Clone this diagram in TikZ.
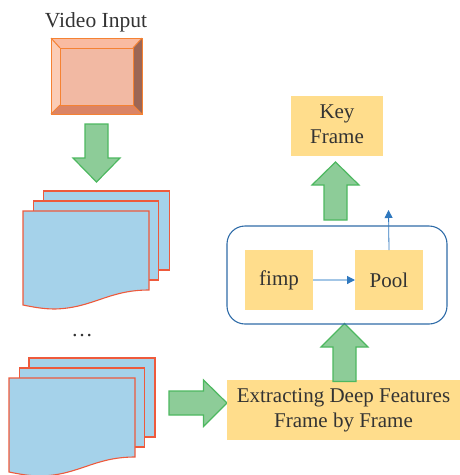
\documentclass[tikz,border=0pt]{standalone}
\usepackage{fontspec}
\setmainfont{Liberation Serif}
\usetikzlibrary{arrows.meta}
\definecolor{bevelline}{HTML}{F58233}
\definecolor{bevelface}{HTML}{F2B9A3}
\definecolor{beveltop}{HTML}{F9BBA1}
\definecolor{bevelleft}{HTML}{FBCDB6}
\definecolor{bevelright}{HTML}{9C6655}
\definecolor{bevelbottom}{HTML}{DB8465}
\definecolor{arrowfill}{HTML}{8DCC98}
\definecolor{arrowline}{HTML}{4DB860}
\definecolor{sheetfill}{HTML}{A5D2EA}
\definecolor{sheetline}{HTML}{EE5A3C}
\definecolor{boxfill}{HTML}{FFDD8C}
\definecolor{frameline}{HTML}{2F6CA8}
\definecolor{thinblue}{HTML}{2F78BE}
\definecolor{paleblue}{HTML}{A3C6E6}
\definecolor{txt}{HTML}{333333}
\tikzset{
  blockarrow/.style={draw=arrowline,fill=arrowfill,line width=1.2pt,line join=miter},
  sheet/.style={draw=sheetline,fill=sheetfill,line width=1.1pt,line join=miter},
  yellowbox/.style={fill=boxfill,inner sep=0pt,outer sep=0pt,text=txt,align=center,font=\fontsize{21}{25.5}\selectfont},
  label/.style={text=txt,inner sep=0pt,font=\fontsize{21.5}{26}\selectfont},
  flow/.style={draw=thinblue,line width=0.8pt,-{Triangle[length=8pt,width=8pt,color=thinblue]}},
  bevelseg/.style={draw=bevelline,line width=1pt,line join=miter}
}
\newcommand{\sheetat}[2]{% x, y of top-left
  \draw[sheet,shift={(#1,#2)}] (0,0) -- (126,0) -- (126,79)
    .. controls (85,79) and (70,97) .. (32,98)
    .. controls (20,98) and (10,96) .. (0,94) -- cycle;
}
\newcommand{\backsheet}[4]{% x, y, w, h
  \draw[sheet] (#1,#2) rectangle ++(#3,#4);
}
\begin{document}
\begin{tikzpicture}[x=1pt,y=-1pt]
\useasboundingbox (0,0) rectangle (460,475);
% video input
\node[label] (vidlabel) at (96,22) {Video Input};
\fill[beveltop]   (51,38) -- (142,38) -- (133,48) -- (60,48) -- cycle;
\fill[bevelleft]  (51,38) -- (60,48) -- (60,105) -- (51,114) -- cycle;
\fill[bevelright] (142,38) -- (142,114) -- (133,105) -- (133,48) -- cycle;
\fill[bevelbottom](51,114) -- (60,105) -- (133,105) -- (142,114) -- cycle;
\draw[bevelseg,fill=bevelface] (60,48) rectangle (133,105);
\draw[bevelseg] (51,38) -- (60,48) (142,38) -- (133,48) (51,114) -- (60,105) (142,114) -- (133,105);
\draw[bevelseg] (51,38) rectangle (142,114);
% arrow down
\draw[blockarrow] (85,124) -- (108,124) -- (108,158) -- (120,158) -- (96.5,182) -- (73,158) -- (85,158) -- cycle;
% upper stack
\backsheet{43.5}{191}{126}{79}
\backsheet{33.5}{201}{125}{79}
\sheetat{23}{211}
% dots
\node[label] (dots) at (82,336) {…};
% lower stack
\backsheet{29}{358}{126}{79}
\backsheet{19.5}{368}{125}{79}
\begin{scope}
\clip (0,0) rectangle (460,475);
\sheetat{9}{378}
\end{scope}
% arrow right
\draw[blockarrow] (169,391) -- (203.5,391) -- (203.5,380) -- (227,403) -- (203.5,426.5) -- (203.5,415) -- (169,415) -- cycle;
% extract box
\node[yellowbox,minimum width=233pt,minimum height=60pt] (extract) at (343.5,410) {\strut Extracting Deep Features\\\strut Frame by Frame};
% arrow up into container
\draw[blockarrow] (333,381.5) -- (333,347) -- (321,347) -- (344.5,323.5) -- (368,347) -- (356,347) -- (356,381.5) -- cycle;
% container
\node[draw=frameline,line width=1.1pt,rounded corners=18pt,minimum width=220pt,minimum height=98pt,inner sep=0pt] (container) at (337,275) {};
\node[yellowbox,minimum width=68pt,minimum height=60pt] (fimp) at (279,280) {fimp};
\node[yellowbox,minimum width=68pt,minimum height=60pt] (pool) at (389,280) {Pool};
\coordinate (out) at (388.5,210);
\draw[flow,draw=paleblue,line width=1.2pt] (fimp) -- (pool);
\draw[flow] (pool.north) -- (out);
% arrow up to key frame
\draw[blockarrow] (324,220) -- (324,185) -- (312,185) -- (335.5,162) -- (359,185) -- (347,185) -- (347,220) -- cycle;
\node[yellowbox,minimum width=92pt,minimum height=60pt] (key) at (337,126) {\strut Key\\\strut Frame};
\end{tikzpicture}
\end{document}
